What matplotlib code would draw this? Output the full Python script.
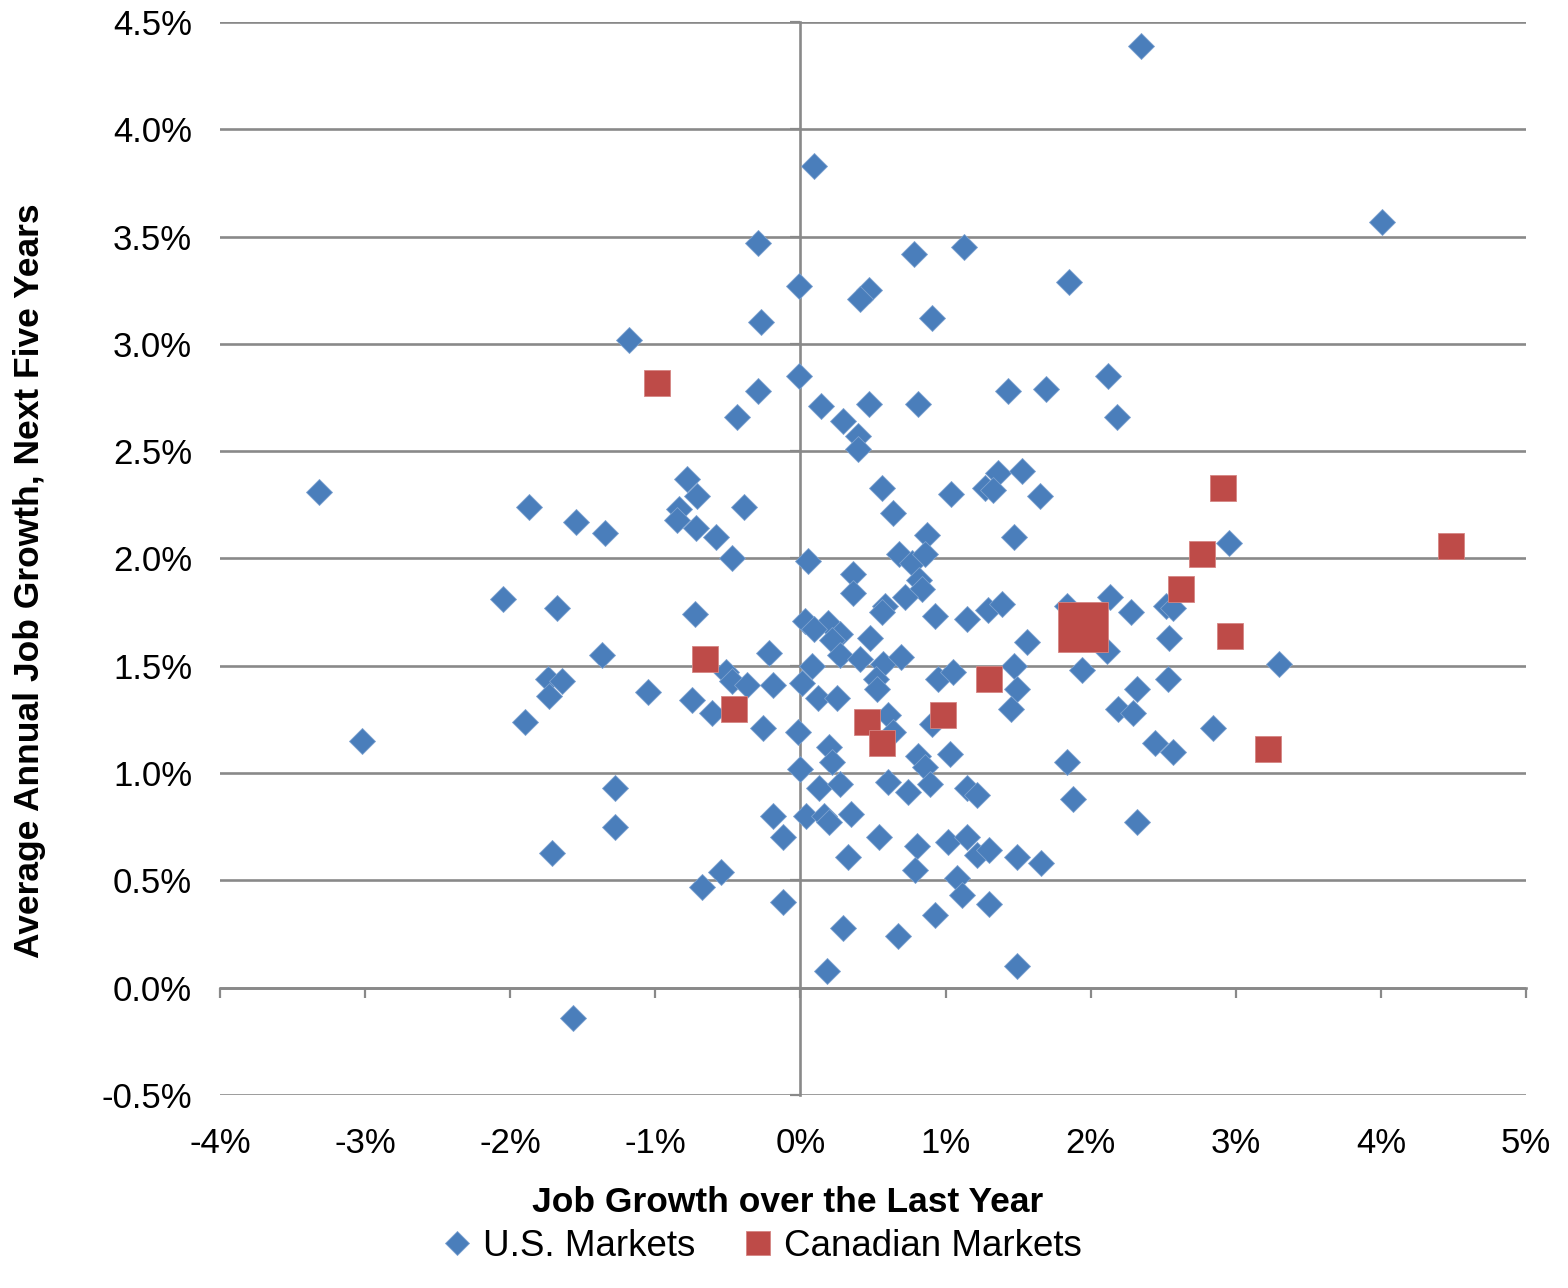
import matplotlib
matplotlib.use("Agg")
import matplotlib.pyplot as plt
from matplotlib.ticker import FixedLocator, FuncFormatter

plt.rcParams["font.family"] = ["Liberation Sans", "DejaVu Sans"]

# Job growth over the last year (%) vs. average annual job growth, next five years (%)
us_x = [2.35, 4.01, 0.09, -0.29, 1.13, 0.78, -0.01, 0.47, 0.41, 1.85,
        0.91, -0.27, -1.18, -0.01, -0.29, 2.12, 1.69, 1.43, 0.47, 0.81,
        0.14, 0.29, -0.44, 2.18, 0.40, 0.40, -3.32, -0.78, -0.71, -0.84,
        -0.85, -0.72, -0.39, -0.58, -0.47, -1.87, -1.55, -1.35, 0.56, 0.64,
        1.04, 1.36, 1.27, 1.33, 1.53, 1.65, 1.47, 2.95, 0.87, 0.68,
        0.77, 0.86, 0.82, 0.84, 0.05, 0.36, 0.36, 0.58, 0.56, 0.72,
        0.93, 1.15, 1.29, 1.39, -2.05, -1.68, -0.73, 1.84, 2.13, 2.28,
        2.52, 2.57, 0.03, 0.19, 0.27, 0.09, 0.22, 0.48, 1.56, 2.11,
        2.54, -1.37, -0.22, 0.27, 0.41, 0.57, 0.69, 0.08, -0.51, -0.47,
        -0.37, -0.19, 0.01, 0.52, 0.53, 0.95, 1.05, 1.47, 1.49, 1.45,
        1.94, 3.30, 2.32, 2.53, 2.19, 2.29, -1.74, -1.64, -1.73, -1.05,
        -0.75, -0.61, -1.90, 0.12, 0.25, -0.26, -0.02, 0.60, 0.64, 0.91,
        2.84, 2.44, 2.57, -3.02, 0.20, 0.22, 0.00, 0.13, 0.27, 0.60,
        0.81, 0.86, 0.89, 0.74, 1.03, 1.15, 1.22, 1.84, 1.88, -1.28,
        -1.28, -1.71, 2.32, -0.19, -0.12, -0.55, -0.68, -0.12, 0.04, 0.16,
        0.20, 0.35, 0.33, 0.54, 0.80, 0.79, 1.02, 1.15, 1.22, 1.30,
        1.49, 1.66, 1.08, 1.11, 1.30, 0.93, 0.29, 0.67, 0.18, 1.49,
        -1.57]
us_y = [4.39, 3.57, 3.83, 3.47, 3.45, 3.42, 3.27, 3.25, 3.21, 3.29,
        3.12, 3.10, 3.02, 2.85, 2.78, 2.85, 2.79, 2.78, 2.72, 2.72,
        2.71, 2.64, 2.66, 2.66, 2.57, 2.51, 2.31, 2.37, 2.29, 2.23,
        2.18, 2.14, 2.24, 2.10, 2.00, 2.24, 2.17, 2.12, 2.33, 2.21,
        2.30, 2.40, 2.33, 2.32, 2.41, 2.29, 2.10, 2.07, 2.11, 2.02,
        1.98, 2.02, 1.90, 1.86, 1.99, 1.93, 1.84, 1.78, 1.75, 1.82,
        1.73, 1.72, 1.76, 1.79, 1.81, 1.77, 1.74, 1.78, 1.82, 1.75,
        1.78, 1.77, 1.71, 1.70, 1.65, 1.67, 1.62, 1.63, 1.61, 1.57,
        1.63, 1.55, 1.56, 1.55, 1.53, 1.51, 1.54, 1.50, 1.47, 1.43,
        1.41, 1.41, 1.42, 1.44, 1.39, 1.44, 1.47, 1.50, 1.39, 1.30,
        1.48, 1.51, 1.39, 1.44, 1.30, 1.28, 1.44, 1.43, 1.36, 1.38,
        1.34, 1.28, 1.24, 1.35, 1.35, 1.21, 1.19, 1.27, 1.19, 1.23,
        1.21, 1.14, 1.10, 1.15, 1.12, 1.05, 1.02, 0.93, 0.95, 0.96,
        1.08, 1.03, 0.95, 0.91, 1.09, 0.93, 0.90, 1.05, 0.88, 0.93,
        0.75, 0.63, 0.77, 0.80, 0.70, 0.54, 0.47, 0.40, 0.80, 0.80,
        0.77, 0.81, 0.61, 0.70, 0.66, 0.55, 0.68, 0.70, 0.62, 0.64,
        0.61, 0.58, 0.51, 0.43, 0.39, 0.34, 0.28, 0.24, 0.08, 0.10,
        -0.14]

can_x = [-0.99, -0.66, -0.46, 0.46, 0.56, 0.98, 1.30, 2.62, 2.77, 2.91,
         2.96, 3.22, 4.48]
can_y = [2.82, 1.53, 1.30, 1.24, 1.14, 1.27, 1.44, 1.86, 2.02, 2.33,
         1.64, 1.11, 2.06]

# Highlighted Canadian market (drawn with a larger marker)
hl_x = [1.95]
hl_y = [1.68]

x_ticks = [-4, -3, -2, -1, 0, 1, 2, 3, 4, 5]
y_ticks = [-0.5, 0.0, 0.5, 1.0, 1.5, 2.0, 2.5, 3.0, 3.5, 4.0, 4.5]

BLUE = "#4A7EBB"
RED = "#BE4B48"
GRID = "#898989"

W, H = 1568, 1288
fig = plt.figure(figsize=(W / 100, H / 100), dpi=100)
pos = [220 / W, 1 - 1095 / H, (1526 - 220) / W, (1095 - 22) / H]
ax = fig.add_axes(pos)

ax.set_xlim(x_ticks[0], x_ticks[-1])
ax.set_ylim(y_ticks[0], y_ticks[-1])
for s in ax.spines.values():
    s.set_visible(False)
ax.xaxis.set_major_locator(FixedLocator(x_ticks))
ax.yaxis.set_major_locator(FixedLocator(y_ticks))
ax.xaxis.set_major_formatter(FuncFormatter(lambda v, p: f"{v:.0f}%"))
ax.yaxis.set_major_formatter(FuncFormatter(lambda v, p: f"{v:.1f}%"))
ax.tick_params(axis="x", length=0, pad=23, labelsize=25)
ax.tick_params(axis="y", length=0, pad=20, labelsize=25)
ax.yaxis.grid(True, color=GRID, linewidth=1.9)
ax.xaxis.grid(False)
ax.set_axisbelow(True)

# Overlay axes carrying the zero-crossing axis lines and their tick marks
ov = fig.add_axes(pos, sharex=ax, sharey=ax, facecolor="none")
ov.spines["top"].set_visible(False)
ov.spines["right"].set_visible(False)
ov.spines["bottom"].set_position(("data", 0))
ov.spines["left"].set_position(("data", 0))
for k in ("bottom", "left"):
    ov.spines[k].set_color(GRID)
    ov.spines[k].set_linewidth(1.9)
ov.tick_params(axis="both", direction="out", length=7, width=1.6,
               color=GRID, labelbottom=False, labelleft=False)
ov.set_zorder(ax.get_zorder() + 1)

ov.plot(us_x, us_y, linestyle="none", marker="D", markersize=13.2,
        markerfacecolor=BLUE, markeredgecolor="#7DA2D0",
        markeredgewidth=0.6, label="U.S. Markets", zorder=3)
ov.plot(can_x, can_y, linestyle="none", marker="s", markersize=18.5,
        markerfacecolor=RED, markeredgecolor="#D58583",
        markeredgewidth=0.6, label="Canadian Markets", zorder=4)
ov.plot(hl_x, hl_y, linestyle="none", marker="s", markersize=36.5,
        markerfacecolor=RED, markeredgecolor="#D58583",
        markeredgewidth=0.6, label="_nolegend_", zorder=4)

fig.text(788 / W, 1 - 1203 / H, "Job Growth over the Last Year",
         ha="center", va="center", fontsize=25.5, fontweight="bold")
fig.text(30 / W, 1 - 581 / H, "Average Annual Job Growth, Next Five Years",
         ha="center", va="center", rotation=90, fontsize=25.5,
         fontweight="bold")

handles, labels = ov.get_legend_handles_labels()
leg = fig.legend(handles, labels, loc="center",
                 bbox_to_anchor=(762 / W, 1 - 1246 / H), ncol=2,
                 frameon=False, fontsize=26.5, handlelength=0.8,
                 handletextpad=0.3, columnspacing=1.3, markerscale=0.9)

fig.savefig("out.png", dpi=100)
